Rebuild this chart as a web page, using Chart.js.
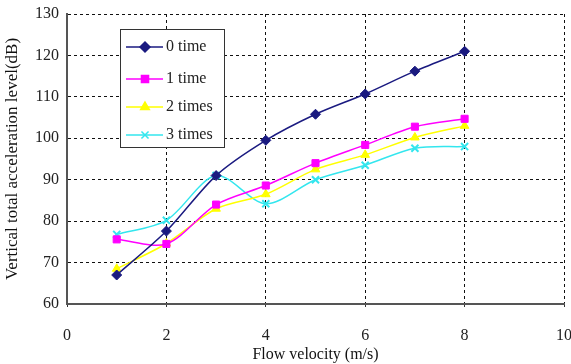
<!DOCTYPE html>
<html>
<head>
<meta charset="utf-8">
<script src="https://cdn.jsdelivr.net/npm/chart.js@4.4.1/dist/chart.umd.min.js"></script>
<style>
  html, body { margin: 0; padding: 0; background: #fff; }
  #wrap { width: 571px; height: 364px; }
</style>
</head>
<body>
<div id="wrap"><canvas id="chart"></canvas></div>
<script>
const velocity = [1, 2, 3, 4, 5, 6, 7, 8];
const time0 = [67, 77.6, 91, 99.5, 105.8, 110.7, 116.2, 121];
const time1 = [75.6, 74.5, 84, 88.6, 94, 98.4, 102.8, 104.7];
const time2 = [68.5, 74.6, 83, 86.5, 92.5, 96, 100.2, 103];
const time3 = [76.8, 80.2, 91, 84.2, 90, 93.5, 97.6, 98];
const xTicks = [0, 2, 4, 6, 8, 10];
const yTicks = [60, 70, 80, 90, 100, 110, 120, 130];

const serif = '"Liberation Serif", "DejaVu Serif", serif';

const makeSeries = (label, values, color, style, size) => ({
    label: label,
    data: velocity.map((v, i) => ({ x: v, y: values[i] })),
    borderColor: color,
    backgroundColor: color,
    borderWidth: 1.5,
    pointStyle: style,
    pointRadius: size,
    pointBorderWidth: style === 'crossRot' ? 2 : 1,
    tension: 0.3,
    fill: false
});

// legend drawn inside the plot, like the original
const boxLegend = {
    id: 'boxLegend',
    afterDraw(chart) {
        const ctx = chart.ctx;
        const left = 120, top = 29, width = 104, height = 118;
        const rows = [47, 79, 107, 135];
        ctx.save();
        ctx.fillStyle = '#fff';
        ctx.fillRect(left, top, width, height);
        ctx.strokeStyle = '#333';
        ctx.lineWidth = 1;
        ctx.strokeRect(left + 0.5, top + 0.5, width, height);
        chart.data.datasets.forEach((ds, i) => {
            const y = rows[i];
            ctx.strokeStyle = ds.borderColor;
            ctx.lineWidth = 1.5;
            ctx.beginPath();
            ctx.moveTo(126, y);
            ctx.lineTo(163, y);
            ctx.stroke();
            ctx.fillStyle = ds.backgroundColor;
            Chart.helpers.drawPoint(ctx, {
                pointStyle: ds.pointStyle,
                radius: ds.pointRadius,
                rotation: 0,
                borderWidth: ds.pointBorderWidth
            }, 145, y);
            ctx.fillStyle = '#222';
            ctx.font = '16px ' + serif;
            ctx.textBaseline = 'middle';
            ctx.fillText(ds.label, 166, y);
        });
        ctx.restore();
    }
};

const ctx = document.getElementById('chart').getContext('2d');
new Chart(ctx, {
    type: 'line',
    data: {
        datasets: [
            makeSeries('0 time', time0, '#1a1a80', 'rectRot', 5),
            makeSeries('1 time', time1, '#ff00ff', 'rect', 5),
            makeSeries('2 times', time2, '#ffff00', 'triangle', 5),
            makeSeries('3 times', time3, '#33e6ee', 'crossRot', 5)
        ]
    },
    options: {
        responsive: true,
        maintainAspectRatio: false,
        animation: false,
        layout: { padding: { top: 14, right: 6, left: 0, bottom: 0 } },
        plugins: {
            legend: { display: false },
            tooltip: { enabled: false }
        },
        scales: {
            x: {
                type: 'linear',
                min: 0,
                max: 10,
                afterBuildTicks: (scale) => { scale.ticks = xTicks.map(v => ({ value: v })); },
                afterFit: (scale) => {
                    scale.height = 60;
                    scale.paddingLeft = 0;
                    scale.paddingRight = 0;
                },
                ticks: {
                    color: '#222',
                    font: { family: serif, size: 16 },
                    padding: 19,
                    maxRotation: 0
                },
                grid: {
                    color: '#111',
                    lineWidth: 1,
                    drawTicks: true,
                    tickLength: 3,
                    tickColor: '#333'
                },
                border: { display: true, color: '#555', width: 2, dash: [3, 3] },
                title: {
                    display: true,
                    text: 'Flow velocity (m/s)',
                    color: '#111',
                    font: { family: serif, size: 16 },
                    padding: { top: 0, bottom: 0 }
                }
            },
            y: {
                min: 60,
                max: 130,
                afterBuildTicks: (scale) => { scale.ticks = yTicks.map(v => ({ value: v })); },
                afterFit: (scale) => {
                    scale.width = 67;
                    scale.paddingTop = 0;
                    scale.paddingBottom = 0;
                },
                ticks: {
                    color: '#222',
                    font: { family: serif, size: 16 },
                    padding: 8
                },
                grid: {
                    color: '#111',
                    lineWidth: 1,
                    drawTicks: false
                },
                border: { display: true, color: '#555', width: 2, dash: [3, 3] },
                title: {
                    display: true,
                    text: 'Vertical total acceleration level(dB)',
                    color: '#111',
                    font: { family: serif, size: 17 },
                    padding: { top: 2, bottom: 0 }
                }
            }
        }
    },
    plugins: [boxLegend]
});
</script>
</body>
</html>
